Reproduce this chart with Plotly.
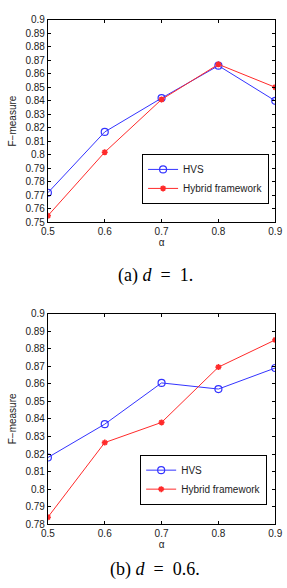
import plotly.graph_objects as go

alpha = [0.5, 0.6, 0.7, 0.8, 0.9]
hvs_a = [0.772, 0.817, 0.842, 0.866, 0.840]
hyb_a = [0.755, 0.802, 0.841, 0.867, 0.850]
hvs_b = [0.818, 0.837, 0.8605, 0.857, 0.869]
hyb_b = [0.784, 0.8265, 0.838, 0.8695, 0.885]
yt_a = [round(0.75 + 0.01 * i, 2) for i in range(16)]
yt_b = [round(0.78 + 0.01 * i, 2) for i in range(13)]

W, H = 287, 588
blue = "#3333ff"
red = "#ff2a2a"
SANS = "Liberation Sans"

def hvs_style():
    return dict(line=dict(color=blue, width=1),
                marker=dict(symbol="circle-open", size=7, color=blue, line=dict(width=1.2)))

def hyb_style():
    return dict(line=dict(color=red, width=1),
                marker=dict(symbol="asterisk-open", size=5, color=red, line=dict(width=1.6, color=red)))

fig = go.Figure()
fig.add_trace(go.Scatter(x=alpha, y=hvs_a, name="HVS", mode="lines+markers",
                         xaxis="x", yaxis="y", legend="legend", **hvs_style()))
fig.add_trace(go.Scatter(x=alpha, y=hyb_a, name="Hybrid framework", mode="lines+markers",
                         xaxis="x", yaxis="y", legend="legend", **hyb_style()))
fig.add_trace(go.Scatter(x=alpha, y=hvs_b, name="HVS", mode="lines+markers",
                         xaxis="x2", yaxis="y2", legend="legend2", **hvs_style()))
fig.add_trace(go.Scatter(x=alpha, y=hyb_b, name="Hybrid framework", mode="lines+markers",
                         xaxis="x2", yaxis="y2", legend="legend2", **hyb_style()))

xdom = [43 / W, 282 / W]
axfont = dict(family=SANS, size=10, color="#222")
titlefont = dict(family=SANS, size=10, color="#222")
common = dict(showgrid=False, zeroline=False, showline=True, linecolor="black", linewidth=1,
              mirror="ticks", ticks="inside", ticklen=3, tickcolor="black", tickfont=axfont,
              ticklabeloverflow="allow")

legcommon = dict(xanchor="left", yanchor="top", bgcolor="white",
                 bordercolor="black", borderwidth=1, font=dict(family=SANS, size=10, color="#222"),
                 tracegroupgap=0, itemwidth=30)

fig.update_layout(
    width=W, height=H, margin=dict(l=0, r=0, t=0, b=0),
    paper_bgcolor="white", plot_bgcolor="white",
    xaxis=dict(domain=xdom, range=[0.5, 0.9], tickvals=alpha, ticktext=[str(a) for a in alpha],
               anchor="y", title=dict(text="α", font=titlefont, standoff=2), **common),
    yaxis=dict(domain=[1 - 221 / H, 1 - 14 / H], range=[0.75, 0.9], tickvals=yt_a,
               ticktext=[f"{v:g}" for v in yt_a], anchor="x",
               title=dict(text="F−measure", font=titlefont, standoff=6), **common),
    xaxis2=dict(domain=xdom, range=[0.5, 0.9], tickvals=alpha, ticktext=[str(a) for a in alpha],
                anchor="y2", title=dict(text="α", font=titlefont, standoff=2), **common),
    yaxis2=dict(domain=[1 - 529 / H, 1 - 314 / H], range=[0.78, 0.9], tickvals=yt_b,
                ticktext=[f"{v:g}" for v in yt_b], anchor="x2",
                title=dict(text="F−measure", font=titlefont, standoff=6), **common),
    legend=dict(x=142 / W, y=1 - 151 / H, **legcommon),
    legend2=dict(x=140 / W, y=1 - 458 / H, **legcommon),
    annotations=[
        dict(text="(a) <i>d</i>&nbsp; = &nbsp;1.", x=156 / W, y=1 - 262 / H, xref="paper", yref="paper",
             xanchor="center", yanchor="top", showarrow=False,
             font=dict(family="Liberation Serif", size=18, color="black")),
        dict(text="(b) <i>d</i>&nbsp; = &nbsp;0.6.", x=156 / W, y=1 - 562 / H, xref="paper", yref="paper",
             xanchor="center", yanchor="top", showarrow=False,
             font=dict(family="Liberation Serif", size=18, color="black")),
    ],
)

fig.write_html("out.html")
